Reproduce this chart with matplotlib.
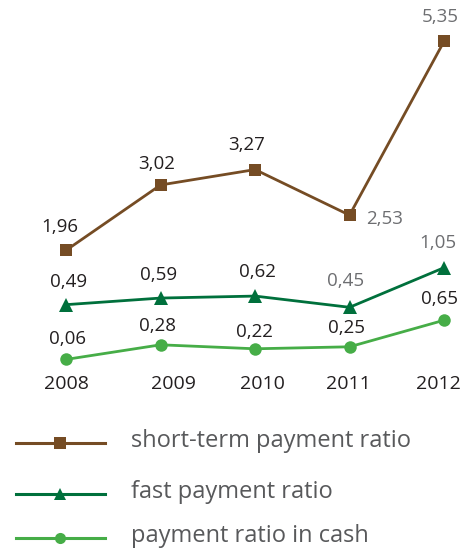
import matplotlib
matplotlib.use("Agg")
import matplotlib.pyplot as plt
from matplotlib.lines import Line2D

plt.rcParams['font.family'] = ['Open Sans', 'DejaVu Sans']

years = ["2008", "2009", "2010", "2011", "2012"]
short_term = [1.96, 3.02, 3.27, 2.53, 5.35]
fast = [0.49, 0.59, 0.62, 0.45, 1.05]
cash = [0.06, 0.28, 0.22, 0.25, 0.65]

series_names = ["short-term payment ratio", "fast payment ratio", "payment ratio in cash"]

BROWN = "#754C24"
DKGREEN = "#00703C"
LTGREEN = "#46AD47"
DARK_TXT = "#231F20"
GRAY_TXT = "#6D6E71"

W, H = 461, 554
fig = plt.figure(figsize=(W / 100, H / 100), dpi=100)

# chart area in figure pixels (top-down)
top_px, bot_px = 20, 380
rect = [0, 1 - bot_px / H, 1, (bot_px - top_px) / H]

x = list(range(len(years)))
xlim = (-0.70, 4.18)

# each series sits on its own band with a common vertical scale
# (zero pixel row, pixels per unit)
bands = [
    (short_term, BROWN, "s", 9, 371.0, 61.6),
    (fast, DKGREEN, "^", 10, 337.0, 66.0),
    (cash, LTGREEN, "o", 9, 363.4, 66.4),
]

# label offsets in pixels (dx, dy) and colors per point
label_specs = [
    [(-6, 23, DARK_TXT), (-4, 21, DARK_TXT), (-8, 25, DARK_TXT), (35, -4, GRAY_TXT), (-4, 24, GRAY_TXT)],
    [(2, 23, DARK_TXT), (-2, 23, DARK_TXT), (2, 24, DARK_TXT), (-4, 26, GRAY_TXT), (-6, 25, GRAY_TXT)],
    [(1, 20, DARK_TXT), (-3, 19, DARK_TXT), (-1, 17, DARK_TXT), (-3, 19, DARK_TXT), (-4, 21, DARK_TXT)],
]

axes = []
for i, (vals, col, mk, ms, zero_px, ppu) in enumerate(bands):
    ax = fig.add_axes(rect, facecolor="none")
    ymin = (zero_px - bot_px) / ppu
    ymax = (zero_px - top_px) / ppu
    ax.set_ylim(ymin, ymax)
    ax.set_xlim(*xlim)
    ax.plot(x, vals, color=col, lw=2, marker=mk, ms=ms, markeredgewidth=0, zorder=3)
    for xi, v, (dx, dy, tc) in zip(x, vals, label_specs[i]):
        ax.annotate(f"{v:.2f}".replace(".", ","), (xi, v), xytext=(dx * 0.72, dy * 0.72),
                    textcoords="offset points", ha="center", va="center",
                    fontsize=13.5, color=tc)
    ax.axis("off")
    axes.append(ax)

# year labels under the chart
base = axes[0]
year_dx = [0, 13, 7, -1, -6]
for xi, yr, dx in zip(x, years, year_dx):
    base.annotate(yr, (xi, 0), xycoords=("data", "axes fraction"), xytext=(dx * 0.72, -3),
                  textcoords="offset points", ha="center", va="center",
                  fontsize=14, color=DARK_TXT, annotation_clip=False)

# legend drawn as individual rows
leg_rows = [(443, BROWN, "s", 9), (494, DKGREEN, "^", 9), (538, LTGREEN, "o", 8)]
for (ypx, col, mk, ms), name in zip(leg_rows, series_names):
    yf = 1 - ypx / H
    fig.add_artist(Line2D([16 / W, 105 / W], [yf, yf], color=col, lw=2.2,
                          transform=fig.transFigure))
    fig.add_artist(Line2D([60 / W], [yf], color=col, marker=mk, ms=ms, markeredgewidth=0,
                          transform=fig.transFigure))
    fig.text(131 / W, yf + 2 / H, name, ha="left", va="center", fontsize=17, color="#58595B")

fig.savefig("out.png", dpi=100)
